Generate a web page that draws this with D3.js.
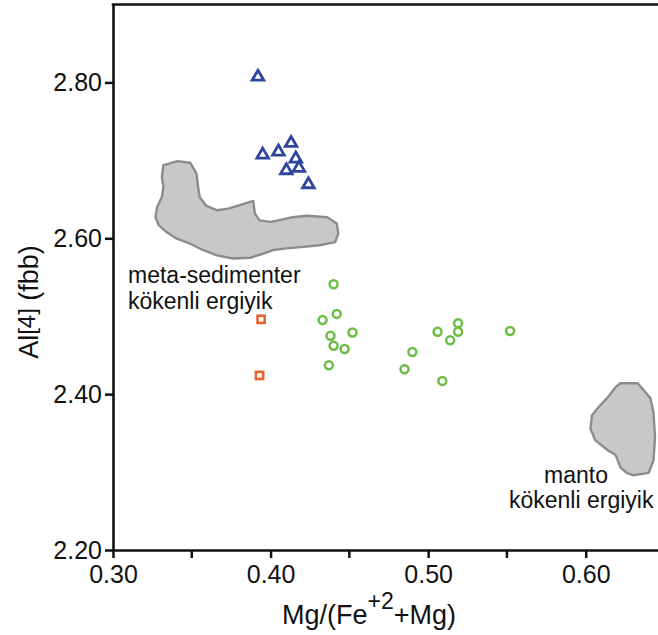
<!DOCTYPE html>
<html>
<head>
<meta charset="utf-8">
<script src="https://cdn.jsdelivr.net/npm/d3@7"></script>
<style>
  html, body { margin: 0; padding: 0; background: #fff; }
  svg { display: block; }
  text { font-family: "Liberation Sans", Arial, Helvetica, sans-serif; fill: #111; }
</style>
</head>
<body>
<svg id="chart" width="658" height="635"></svg>
<script>
// ---- data ----
const xTicks = [0.30, 0.40, 0.50, 0.60];
const xMinorTicks = [0.35, 0.45, 0.55];
const yTicks = [2.20, 2.40, 2.60, 2.80];

const triX = [0.392, 0.395, 0.405, 0.413, 0.416, 0.410, 0.418, 0.424];
const triY = [2.809, 2.709, 2.713, 2.724, 2.704, 2.689, 2.692, 2.671];

const sqX = [0.394, 0.393];
const sqY = [2.496, 2.424];

const circX = [0.440, 0.442, 0.433, 0.438, 0.452, 0.440, 0.447, 0.437,
               0.519, 0.506, 0.519, 0.514, 0.552, 0.490, 0.485, 0.509];
const circY = [2.541, 2.503, 2.495, 2.475, 2.479, 2.462, 2.458, 2.437,
               2.491, 2.480, 2.480, 2.469, 2.481, 2.454, 2.432, 2.417];

// meta-sedimenter field outline
const metaX = [0.332, 0.341, 0.349, 0.353, 0.354, 0.355, 0.359, 0.366, 0.373, 0.381,
               0.389, 0.390, 0.393, 0.400, 0.407, 0.414, 0.423, 0.436, 0.442, 0.443,
               0.441, 0.431, 0.421, 0.410, 0.402, 0.395, 0.387, 0.376, 0.366, 0.357,
               0.349, 0.340, 0.334, 0.329, 0.327, 0.328, 0.331, 0.332, 0.331];
const metaY = [2.694, 2.699, 2.697, 2.683, 2.666, 2.653, 2.642, 2.636, 2.638, 2.643,
               2.648, 2.632, 2.623, 2.621, 2.624, 2.627, 2.629, 2.627, 2.619, 2.606,
               2.595, 2.591, 2.589, 2.587, 2.585, 2.580, 2.575, 2.574, 2.578, 2.585,
               2.593, 2.600, 2.608, 2.617, 2.627, 2.640, 2.653, 2.666, 2.679];

// manto field outline
const mantoX = [0.622, 0.633, 0.641, 0.643, 0.644, 0.643, 0.640, 0.630, 0.626,
                0.622, 0.619, 0.614, 0.606, 0.603, 0.604, 0.608, 0.614, 0.619];
const mantoY = [2.414, 2.414, 2.395, 2.376, 2.345, 2.315, 2.299, 2.296, 2.299,
                2.306, 2.322, 2.328, 2.341, 2.356, 2.373, 2.383, 2.396, 2.409];

const metaLabel = ["meta-sedimenter", "kökenli ergiyik"];
const mantoLabel = ["manto", "kökenli ergiyik"];

// ---- layout ----
const svg = d3.select("#chart");
const x = d3.scaleLinear().domain([0.30, 0.65]).range([113, 664.5]);
const y = d3.scaleLinear().domain([2.20, 2.90]).range([550, 4.5]);

const FS = 25;

// fields
const line = d3.line().x(d => x(d[0])).y(d => y(d[1])).curve(d3.curveLinearClosed);
const fields = [d3.zip(metaX, metaY), d3.zip(mantoX, mantoY)];
svg.append("g").selectAll("path").data(fields).join("path")
  .attr("d", line)
  .attr("fill", "#c8c8c8")
  .attr("stroke", "#8c8c8c")
  .attr("stroke-width", 2.4)
  .attr("stroke-linejoin", "round");

// field labels
const LFS = 23, LH = 25.8;
const lab = svg.append("g").attr("font-size", LFS);
lab.selectAll("text.meta").data(metaLabel).join("text").attr("class", "meta")
  .attr("x", 128).attr("y", (d, i) => 283 + i * LH).text(d => d);
lab.append("text").attr("x", 544).attr("y", 482.5).text(mantoLabel[0]);
lab.append("text").attr("x", 509).attr("y", 482.5 + LH).text(mantoLabel[1]);

// axes
const gx = svg.append("g").attr("transform", "translate(0,550)")
  .call(d3.axisBottom(x).tickValues(xTicks).tickFormat(d3.format(".2f"))
        .tickSize(8).tickPadding(7).tickSizeOuter(0));
gx.append("g").selectAll("line").data(xMinorTicks).join("line")
  .attr("x1", d => x(d)).attr("x2", d => x(d)).attr("y1", 0).attr("y2", 8)
  .attr("stroke", "#111").attr("stroke-width", 2.5);

const gy = svg.append("g").attr("transform", "translate(113,0)")
  .call(d3.axisLeft(y).tickValues(yTicks).tickFormat(d3.format(".2f"))
        .tickSize(8).tickPadding(3).tickSizeOuter(0));

[gx, gy].forEach(g => {
  g.selectAll(".domain").attr("stroke", "#111").attr("stroke-width", 2.6);
  g.selectAll(".tick line").attr("stroke", "#111").attr("stroke-width", 2.5);
  g.selectAll(".tick text").attr("font-size", FS).attr("fill", "#111")
    .attr("font-family", '"Liberation Sans", Arial, Helvetica, sans-serif');
});

// top frame line
svg.append("line").attr("x1", x(0.30) - 1.3).attr("x2", 658).attr("y1", y(2.90)).attr("y2", y(2.90))
  .attr("stroke", "#111").attr("stroke-width", 2.6);

// markers
const triPath = "M0,-5.2L5.8,4.8L-5.8,4.8Z";
svg.append("g").selectAll("path").data(d3.zip(triX, triY)).join("path")
  .attr("transform", d => `translate(${x(d[0])},${y(d[1])})`)
  .attr("d", triPath).attr("fill", "#fff").attr("stroke", "#2f469c")
  .attr("stroke-width", 2.8).attr("stroke-linejoin", "miter");

svg.append("g").selectAll("rect").data(d3.zip(sqX, sqY)).join("rect")
  .attr("x", d => x(d[0]) - 3.6).attr("y", d => y(d[1]) - 3.6)
  .attr("width", 7.2).attr("height", 7.2)
  .attr("fill", "#fff").attr("stroke", "#e8642c").attr("stroke-width", 2.6);

svg.append("g").selectAll("circle").data(d3.zip(circX, circY)).join("circle")
  .attr("cx", d => x(d[0])).attr("cy", d => y(d[1])).attr("r", 4)
  .attr("fill", "#fff").attr("stroke", "#6cbd45").attr("stroke-width", 2.5);

// axis titles
const xt = svg.append("text").attr("x", 369).attr("y", 624)
  .attr("text-anchor", "middle").attr("font-size", 27);
xt.append("tspan").text("Mg/(Fe");
xt.append("tspan").attr("font-size", 23).attr("dy", -15).text("+2");
xt.append("tspan").attr("dy", 15).text("+Mg)");

const yt = svg.append("text").attr("transform", "translate(38,302) rotate(-90)")
  .attr("text-anchor", "middle").attr("font-size", 27);
yt.append("tspan").text("Al");
yt.append("tspan").attr("font-size", 24).attr("dy", -3).text("[4]");
yt.append("tspan").attr("dy", 3).text(" (fbb)");
</script>
</body>
</html>
